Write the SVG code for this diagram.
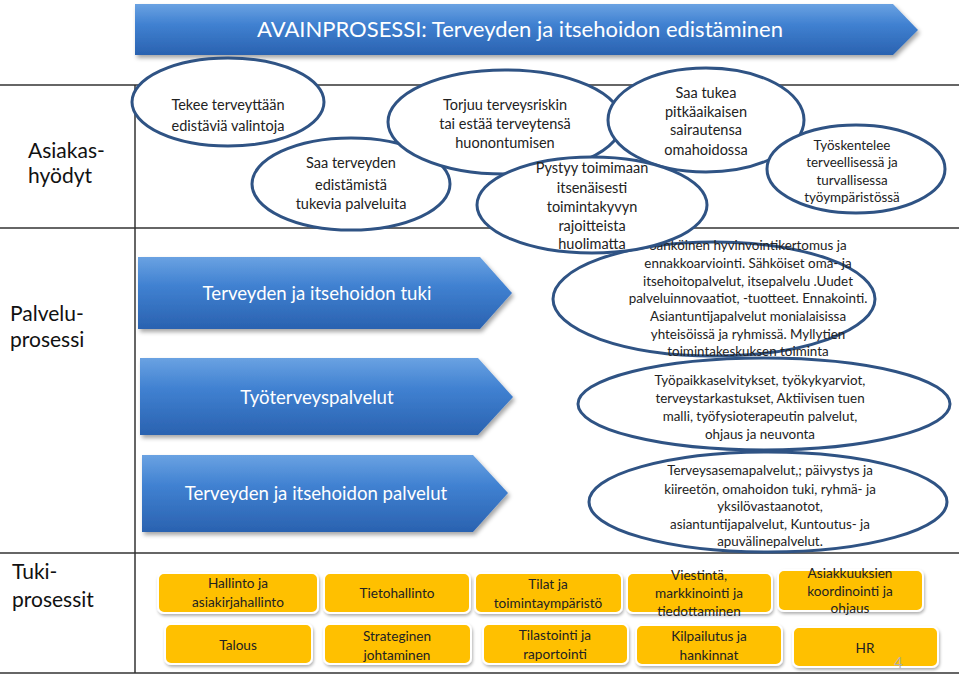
<svg xmlns="http://www.w3.org/2000/svg" width="959" height="678" viewBox="0 0 959 678">
<defs>
<linearGradient id="blueGrad" x1="0" y1="0" x2="0" y2="1">
<stop offset="0" stop-color="#6aa2e2"/>
<stop offset="0.4" stop-color="#4081d1"/>
<stop offset="1" stop-color="#2a62b0"/>
</linearGradient>
<filter id="shadow" x="-5%" y="-10%" width="115%" height="130%">
<feDropShadow dx="2" dy="3" stdDeviation="2" flood-color="#000" flood-opacity="0.35"/>
</filter>
<filter id="boxShadow" x="-10%" y="-20%" width="125%" height="150%">
<feDropShadow dx="1" dy="2" stdDeviation="1.5" flood-color="#000" flood-opacity="0.3"/>
</filter>
<style>
.lane{stroke:#333;stroke-width:1.5;fill:none}
.arrow{fill:url(#blueGrad);filter:url(#shadow)}
.ell{fill:#fff;stroke:#2f5384;stroke-width:3}
.box{fill:#ffc000;stroke:#fff;stroke-width:2;filter:url(#boxShadow)}
text{font-family:Lato,"Liberation Sans",sans-serif}
.title{fill:#fff;font-size:22px;text-anchor:middle}
.atext{fill:#fff;font-size:18.6px;text-anchor:middle}
.lbl{fill:#111;font-size:21px}
.et{fill:#222;font-size:14.5px;text-anchor:middle}
.es{fill:#222;font-size:13.4px;text-anchor:middle}
.bt{fill:#222;font-size:13.6px;text-anchor:middle}
.pg{fill:#b0b0b0;font-size:15px}
</style>
</defs>
<rect x="0" y="0" width="959" height="678" fill="#fff"/>

<g id="lanes">
<line class="lane" x1="0" y1="85" x2="959" y2="85"/>
<line class="lane" x1="0" y1="228" x2="959" y2="228"/>
<line class="lane" x1="0" y1="553" x2="959" y2="553"/>
<line class="lane" x1="0" y1="673" x2="959" y2="673"/>
<line class="lane" x1="135" y1="85" x2="135" y2="673"/>
<text class="lbl" x="28" y="158">Asiakas-</text>
<text class="lbl" x="28" y="183">hyödyt</text>
<text class="lbl" x="10" y="321">Palvelu-</text>
<text class="lbl" x="10" y="347">prosessi</text>
<text class="lbl" x="12" y="579">Tuki-</text>
<text class="lbl" x="12" y="607">prosessit</text>
</g>

<g id="title">
<polygon class="arrow" points="135,4 893,4 918,30 893,55 135,55"/>
<text class="title" x="520" y="37">AVAINPROSESSI: Terveyden ja itsehoidon edistäminen</text>
</g>

<g id="connectors"></g>

<g id="e1">
<ellipse class="ell" cx="228" cy="102" rx="96" ry="44"/>
<text class="et" x="228" y="110">Tekee terveyttään</text>
<text class="et" x="228" y="131">edistäviä valintoja</text>
</g>
<g id="e2">
<ellipse class="ell" cx="351" cy="184" rx="99" ry="46"/>
<text class="et" x="351" y="168">Saa terveyden</text>
<text class="et" x="351" y="190">edistämistä</text>
<text class="et" x="351" y="209">tukevia palveluita</text>
</g>
<g id="e3">
<ellipse class="ell" cx="505" cy="122" rx="117" ry="52"/>
<text class="et" x="505" y="110">Torjuu terveysriskin</text>
<text class="et" x="505" y="129">tai estää terveytensä</text>
<text class="et" x="505" y="148">huonontumisen</text>
</g>
<g id="e4">
<ellipse class="ell" cx="706" cy="120" rx="98" ry="52"/>
<text class="et" x="706" y="98">Saa tukea</text>
<text class="et" x="706" y="117">pitkäaikaisen</text>
<text class="et" x="706" y="135">sairautensa</text>
<text class="et" x="706" y="155">omahoidossa</text>
</g>
<g id="e6">
<ellipse class="ell" cx="856" cy="169" rx="89" ry="44"/>
<text class="es" x="852" y="150">Työskentelee</text>
<text class="es" x="852" y="167">terveellisessä ja</text>
<text class="es" x="852" y="185">turvallisessa</text>
<text class="es" x="852" y="202">työympäristössä</text>
</g>
<g id="e7">
<ellipse class="ell" cx="714" cy="299" rx="161" ry="57"/>
<text class="es" x="748" y="250">Sähköinen hyvinvointikertomus ja</text>
<text class="es" x="748" y="268">ennakkoarviointi.  Sähköiset  oma- ja</text>
<text class="es" x="748" y="286">itsehoitopalvelut, itsepalvelu .Uudet</text>
<text class="es" x="748" y="303">palveluinnovaatiot, -tuotteet. Ennakointi.</text>
<text class="es" x="748" y="321">Asiantuntijapalvelut monialaisissa</text>
<text class="es" x="748" y="339">yhteisöissä ja ryhmissä. Myllytien</text>
<text class="es" x="748" y="356">toimintakeskuksen toiminta</text>
</g>
<g id="e5">
<ellipse class="ell" cx="592" cy="205" rx="115" ry="48"/>
<text class="et" x="592" y="173">Pystyy toimimaan</text>
<text class="et" x="592" y="193">itsenäisesti</text>
<text class="et" x="592" y="212">toimintakyvyn</text>
<text class="et" x="592" y="231">rajoitteista</text>
<text class="et" x="592" y="249">huolimatta</text>
</g>
<g id="e8">
<ellipse class="ell" cx="764" cy="404" rx="186" ry="46"/>
<text class="es" x="760" y="385">Työpaikkaselvitykset, työkykyarviot,</text>
<text class="es" x="760" y="403">terveystarkastukset, Aktiivisen tuen</text>
<text class="es" x="760" y="421">malli, työfysioterapeutin palvelut,</text>
<text class="es" x="760" y="439">ohjaus ja neuvonta</text>
</g>
<g id="e9">
<ellipse class="ell" cx="768" cy="502" rx="179" ry="50"/>
<text class="es" x="770" y="475">Terveysasemapalvelut,; päivystys ja</text>
<text class="es" x="770" y="494">kiireetön, omahoidon tuki, ryhmä- ja</text>
<text class="es" x="770" y="511">yksilövastaanotot,</text>
<text class="es" x="770" y="529">asiantuntijapalvelut, Kuntoutus- ja</text>
<text class="es" x="770" y="546">apuvälinepalvelut.</text>
</g>

<g id="a1">
<polygon class="arrow" points="138,257 480,257 512,293 480,329 138,329"/>
<text class="atext" x="317" y="300">Terveyden ja itsehoidon tuki</text>
</g>
<g id="a2">
<polygon class="arrow" points="140,358 478,358 513,397 478,435 140,435"/>
<text class="atext" x="317" y="404">Työterveyspalvelut</text>
</g>
<g id="a3">
<polygon class="arrow" points="142,455 473,455 508,493 473,532 142,532"/>
<text class="atext" x="316" y="500">Terveyden ja itsehoidon palvelut</text>
</g>

<g id="b1"><rect class="box" x="158" y="573" width="160" height="40" rx="6"/>
<text class="bt" x="238" y="588">Hallinto ja</text><text class="bt" x="238" y="607">asiakirjahallinto</text></g>
<g id="b2"><rect class="box" x="324" y="573" width="146" height="40" rx="6"/>
<text class="bt" x="397" y="598">Tietohallinto</text></g>
<g id="b3"><rect class="box" x="475" y="573" width="147" height="40" rx="6"/>
<text class="bt" x="548" y="589">Tilat ja</text><text class="bt" x="548" y="608">toimintaympäristö</text></g>
<g id="b4"><rect class="box" x="627" y="573" width="145" height="40" rx="6"/>
<text class="bt" x="699" y="580">Viestintä,</text><text class="bt" x="699" y="598">markkinointi ja</text><text class="bt" x="699" y="616">tiedottaminen</text></g>
<g id="b5"><rect class="box" x="778" y="570" width="145" height="41" rx="6"/>
<text class="bt" x="850" y="578">Asiakkuuksien</text><text class="bt" x="850" y="596">koordinointi ja</text><text class="bt" x="850" y="613">ohjaus</text></g>
<g id="c1"><rect class="box" x="165" y="624" width="147" height="40" rx="6"/>
<text class="bt" x="238" y="650">Talous</text></g>
<g id="c2"><rect class="box" x="324" y="624" width="147" height="40" rx="6"/>
<text class="bt" x="397" y="641">Strateginen</text><text class="bt" x="397" y="660">johtaminen</text></g>
<g id="c3"><rect class="box" x="483" y="624" width="145" height="40" rx="6"/>
<text class="bt" x="555" y="640">Tilastointi ja</text><text class="bt" x="555" y="659">raportointi</text></g>
<g id="c4"><rect class="box" x="636" y="625" width="146" height="40" rx="6"/>
<text class="bt" x="709" y="641">Kilpailutus ja</text><text class="bt" x="709" y="660">hankinnat</text></g>
<g id="c5"><rect class="box" x="793" y="627" width="145" height="40" rx="6"/>
<text class="bt" x="865" y="653">HR</text>
<text class="pg" x="894" y="668">4</text></g>
</svg>
